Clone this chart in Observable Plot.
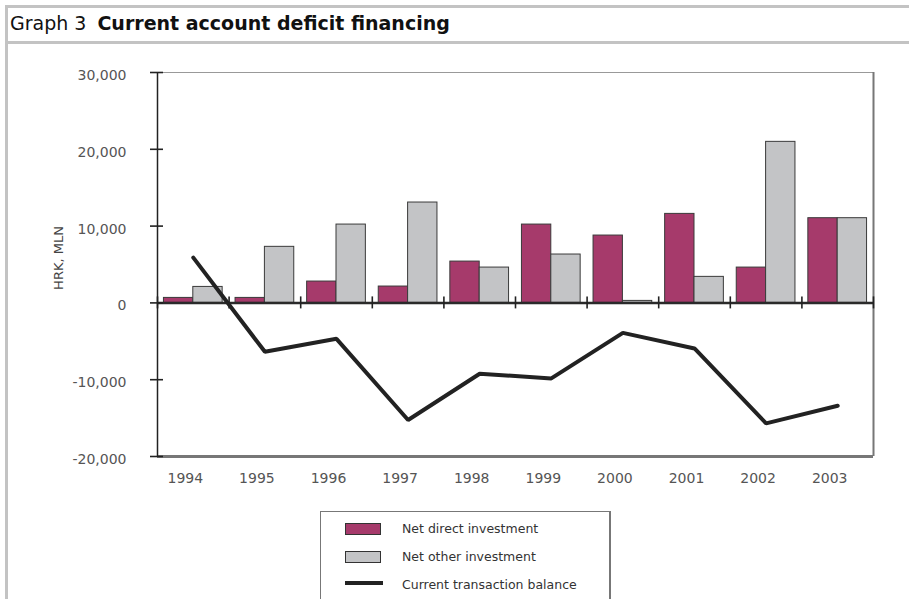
<!DOCTYPE html>
<html>
<head>
<meta charset="utf-8">
<script src="https://cdn.jsdelivr.net/npm/d3@7"></script>
<script src="https://cdn.jsdelivr.net/npm/@observablehq/plot@0.6"></script>
<style>
  html, body { margin: 0; padding: 0; background: #fff; }
  #wrap { position: relative; width: 909px; height: 599px; overflow: hidden; font-family: "DejaVu Sans", sans-serif; }
  .gline { position: absolute; background: #c3c3c3; }
  #title { position: absolute; left: 10px; top: 12px; font-size: 19px; color: #111; white-space: nowrap; }
  #title b { margin-left: 11px; }
  #chart { position: absolute; left: 0; top: 43px; }
  #ylab { position: absolute; left: 58px; top: 258px; transform: translate(-50%, -50%) rotate(-90deg); font-size: 13px; color: #444; white-space: nowrap; }
  #legend { position: absolute; left: 320px; top: 511px; width: 288px; height: 110px; border: 1px solid #777; border-right-width: 2px; }
  .lrow { position: absolute; left: 0; font-size: 12.5px; color: #333; white-space: nowrap; }
  .sw { position: absolute; left: 24px; width: 36px; height: 12px; box-sizing: border-box; border: 1px solid #333; }
  .lt { position: absolute; left: 81px; }
</style>
</head>
<body>
<div id="wrap">
  <div class="gline" style="left:5px; top:5px; width:904px; height:2.5px;"></div>
  <div class="gline" style="left:5px; top:5px; width:2.5px; height:594px;"></div>
  <div class="gline" style="left:5px; top:41px; width:904px; height:2.5px;"></div>
  <div id="title">Graph 3<b>Current account deficit financing</b></div>
  <div id="chart"></div>
  <div id="ylab">HRK, MLN</div>
  <div id="legend"></div>
</div>
<script>
// ---- data ----
const years = [1994, 1995, 1996, 1997, 1998, 1999, 2000, 2001, 2002, 2003];
const netDirect = [650, 650, 2780, 2130, 5380, 10200, 8770, 11590, 4600, 11030];
const netOther = [2080, 7300, 10200, 13070, 4600, 6300, 260, 3390, 20970, 11030];
const currentBalance = [5900, -6370, -4680, -15250, -9230, -9830, -3900, -5930, -15680, -13390];
const yTicks = [-20000, -10000, 0, 10000, 20000, 30000];
const seriesNames = ["Net direct investment", "Net other investment", "Current transaction balance"];
const colors = {direct: "#a63a6b", other: "#c3c4c6", line: "#222222"};

const xDomain = [years[0] - 0.5, years[years.length - 1] + 0.5];
const bounds = years.map(y => y + 0.5).concat([years[0] - 0.5]);
const half = 0.41;

const bars = years.flatMap((y, i) => [
  {year: y, series: seriesNames[0], value: netDirect[i], x1: y - half, x2: y},
  {year: y, series: seriesNames[1], value: netOther[i], x1: y, x2: y + half}
]);
const lineData = years.map((y, i) => ({year: y, value: currentBalance[i]}));
const fmt = d => d.toLocaleString("en-US");

const chart = Plot.plot({
  width: 909,
  height: 457,
  marginLeft: 157,
  marginRight: 36,
  marginTop: 29,
  marginBottom: 44,
  style: {fontFamily: "DejaVu Sans, sans-serif", fontSize: "14px", background: "transparent"},
  x: {domain: xDomain, axis: null},
  y: {domain: [yTicks[0], yTicks[yTicks.length - 1]], axis: null},
  marks: [
    Plot.rectY(bars, {x1: "x1", x2: "x2", y1: 0, y2: "value",
      fill: d => d.series === seriesNames[0] ? colors.direct : colors.other,
      stroke: "#3a3a3a", strokeWidth: 1}),
    // frame
    Plot.ruleY([yTicks[yTicks.length - 1]], {stroke: "#999", strokeWidth: 1.2}),
    Plot.ruleX([xDomain[1]], {stroke: "#777", strokeWidth: 2}),
    Plot.ruleY([yTicks[0]], {stroke: "#777", strokeWidth: 3}),
    Plot.ruleX([xDomain[0]], {stroke: "#222", strokeWidth: 1.5}),
    Plot.ruleY([0], {stroke: "#2a2a2a", strokeWidth: 2.5}),
    // y ticks crossing the axis
    Plot.ruleY(yTicks, {y: d => d, x1: xDomain[0], x2: xDomain[0], insetLeft: -7, insetRight: -6, stroke: "#222", strokeWidth: 1.6}),
    // category boundary ticks on zero line
    Plot.ruleX(bounds, {x: d => d, y1: 0, y2: 0, insetTop: -6, insetBottom: -6, stroke: "#222", strokeWidth: 1.6}),
    Plot.axisY({ticks: yTicks, tickSize: 0, tickPadding: 31, tickFormat: fmt, label: null, dy: 3, fill: "#555", fontSize: 14}),
    Plot.axisX({ticks: years, tickSize: 0, tickPadding: 17, tickFormat: d => String(d), label: null, dx: -8, fill: "#555", fontSize: 14}),
    Plot.line(lineData, {x: "year", y: "value", stroke: colors.line, strokeWidth: 4, strokeLinejoin: "miter"})
  ]
});
document.getElementById("chart").appendChild(chart);

// legend
const legend = document.getElementById("legend");
const rows = [
  {name: seriesNames[0], top: 10, kind: "bar", color: colors.direct},
  {name: seriesNames[1], top: 38, kind: "bar", color: colors.other},
  {name: seriesNames[2], top: 66, kind: "line", color: colors.line}
];
rows.forEach(r => {
  const row = document.createElement("div");
  row.className = "lrow";
  row.style.top = r.top + "px";
  row.style.width = "100%";
  row.style.height = "16px";
  const sw = document.createElement("div");
  if (r.kind === "bar") {
    sw.className = "sw";
    sw.style.top = "1px";
    sw.style.background = r.color;
  } else {
    sw.style.position = "absolute";
    sw.style.left = "24px";
    sw.style.top = "3px";
    sw.style.width = "38px";
    sw.style.height = "4px";
    sw.style.background = r.color;
  }
  const t = document.createElement("span");
  t.className = "lt";
  t.style.top = "-1px";
  t.textContent = r.name;
  row.appendChild(sw);
  row.appendChild(t);
  legend.appendChild(row);
});
</script>
</body>
</html>
